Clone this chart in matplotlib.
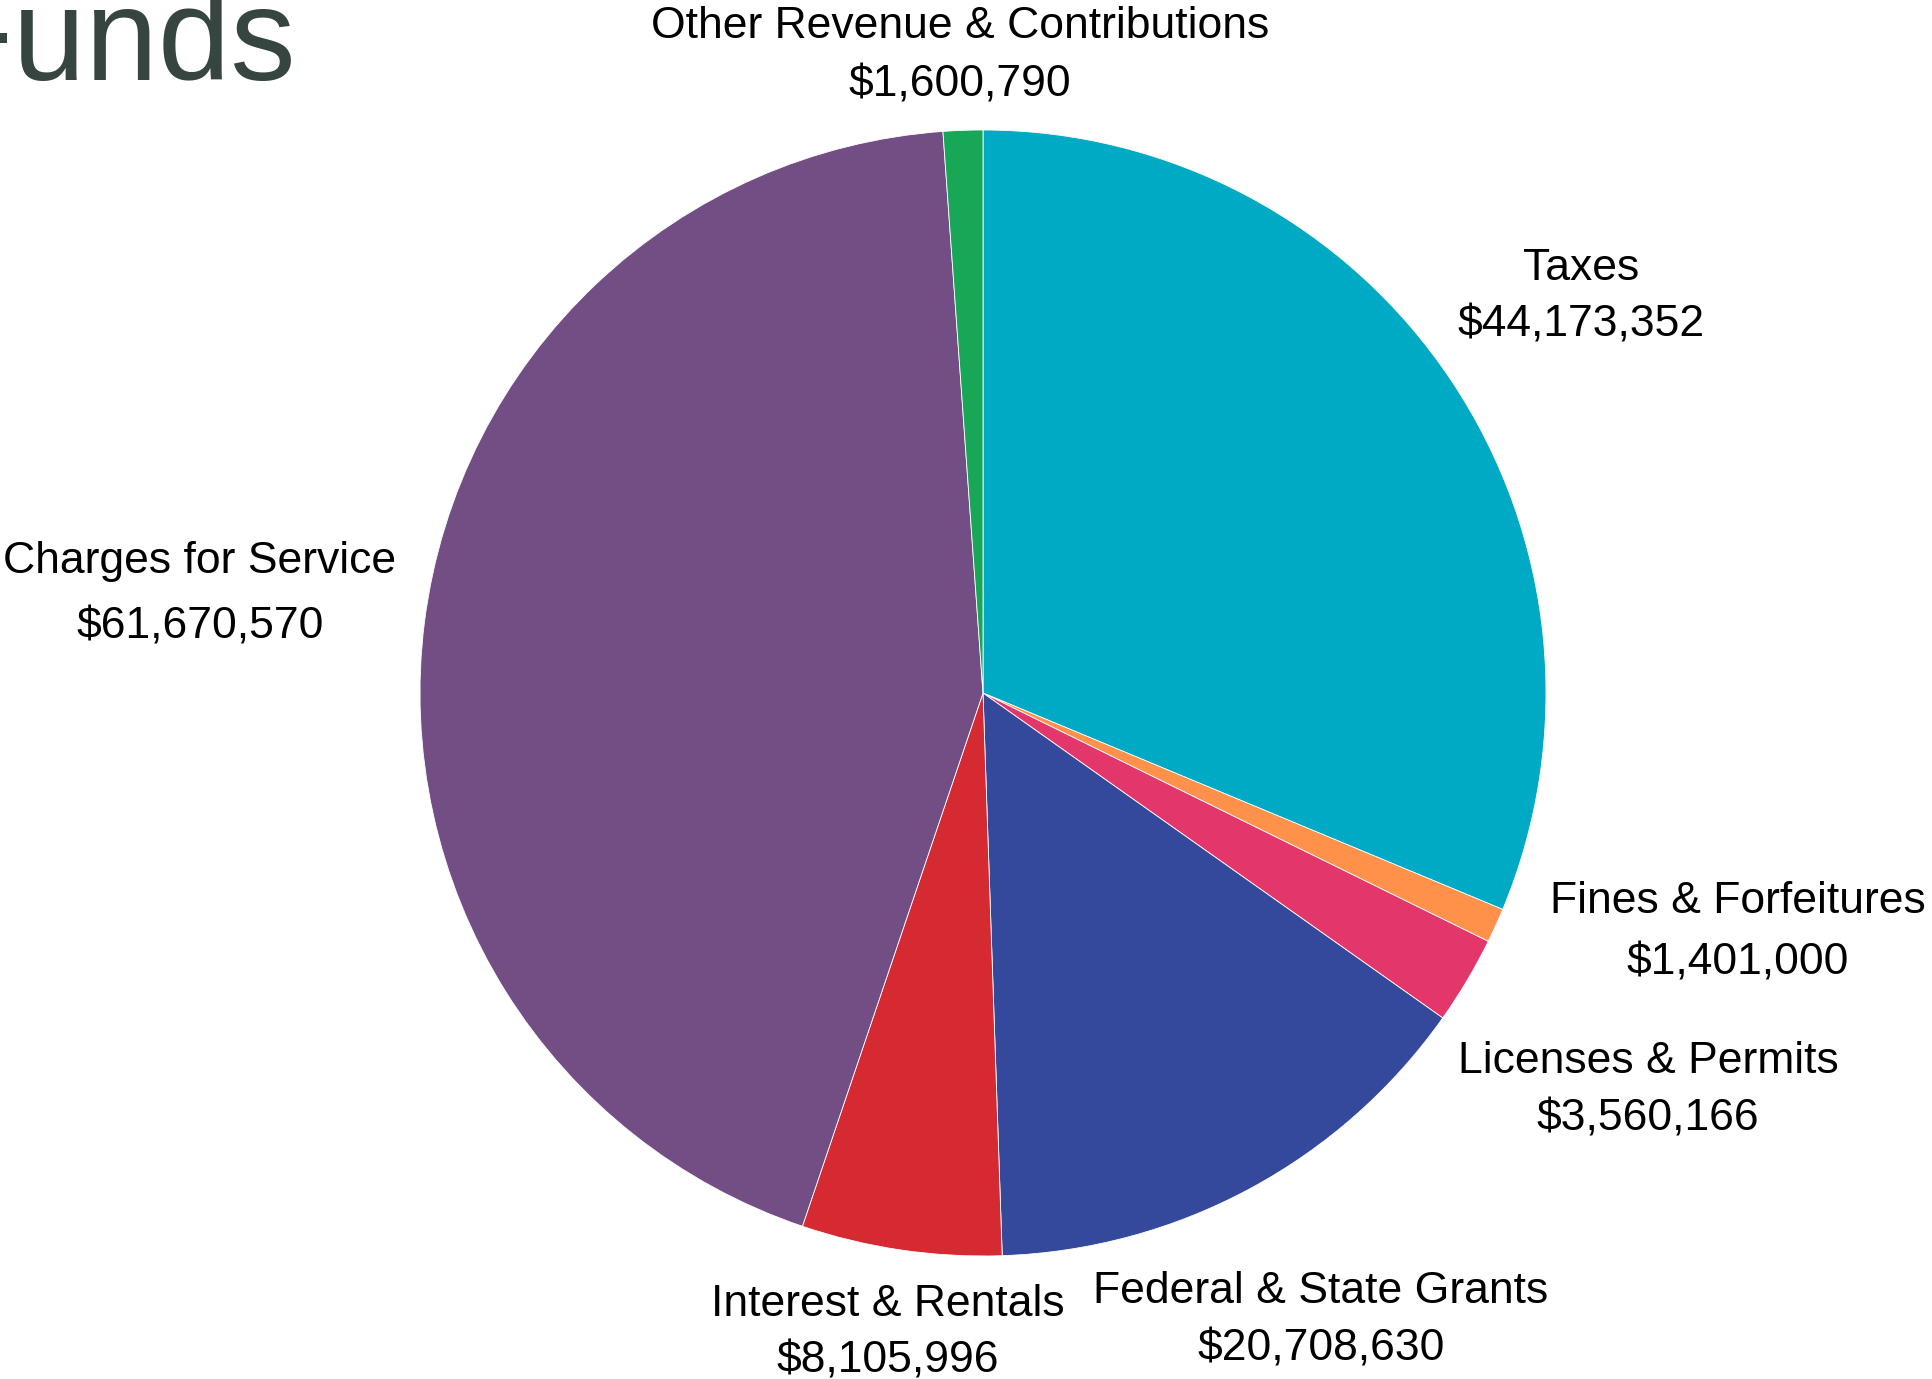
import matplotlib.pyplot as plt

plt.rcParams['font.family'] = ['Liberation Sans', 'DejaVu Sans']

W, H = 1932, 1379

categories = ['Taxes', 'Fines & Forfeitures', 'Licenses & Permits',
              'Federal & State Grants', 'Interest & Rentals',
              'Charges for Service', 'Other Revenue & Contributions']
amounts = [44173352, 1401000, 3560166, 20708630, 8105996, 61670570, 1600790]
colors = ['#00A9C4', '#FF914B', '#E3366A', '#34499C', '#D62A32',
          '#724E85', '#18A657']

# label anchor points in pixels from the top-left: (x centre, baseline of name, baseline of amount)
label_pos = [(1581, 280, 336), (1738, 913, 975), (1648, 1073, 1130),
             (1321, 1303, 1361), (888, 1316, 1372), (200, 573, 638),
             (960, 38, 97)]

fig = plt.figure(figsize=(W / 100, H / 100), dpi=100)
ax = fig.add_axes([0, 0, 1, 1])

ax.pie(amounts, colors=colors, startangle=90, counterclock=False,
       center=(983, H - 693), radius=563,
       wedgeprops=dict(edgecolor='white', linewidth=0.6))
ax.set_xlim(0, W)
ax.set_ylim(0, H)
ax.set_aspect('equal')
ax.axis('off')

for name, amt, (x, y1, y2) in zip(categories, amounts, label_pos):
    ax.text(x, H - y1, name, ha='center', va='baseline', fontsize=32, color='black')
    ax.text(x, H - y2, f'${amt:,}', ha='center', va='baseline', fontsize=32, color='black')

# title runs off the left edge of the canvas
ax.text(296, H - 80, 'Funds', ha='right', va='baseline', fontsize=94,
        color='#36453F', clip_on=False)

fig.savefig('out.png', dpi=100, facecolor='white')
